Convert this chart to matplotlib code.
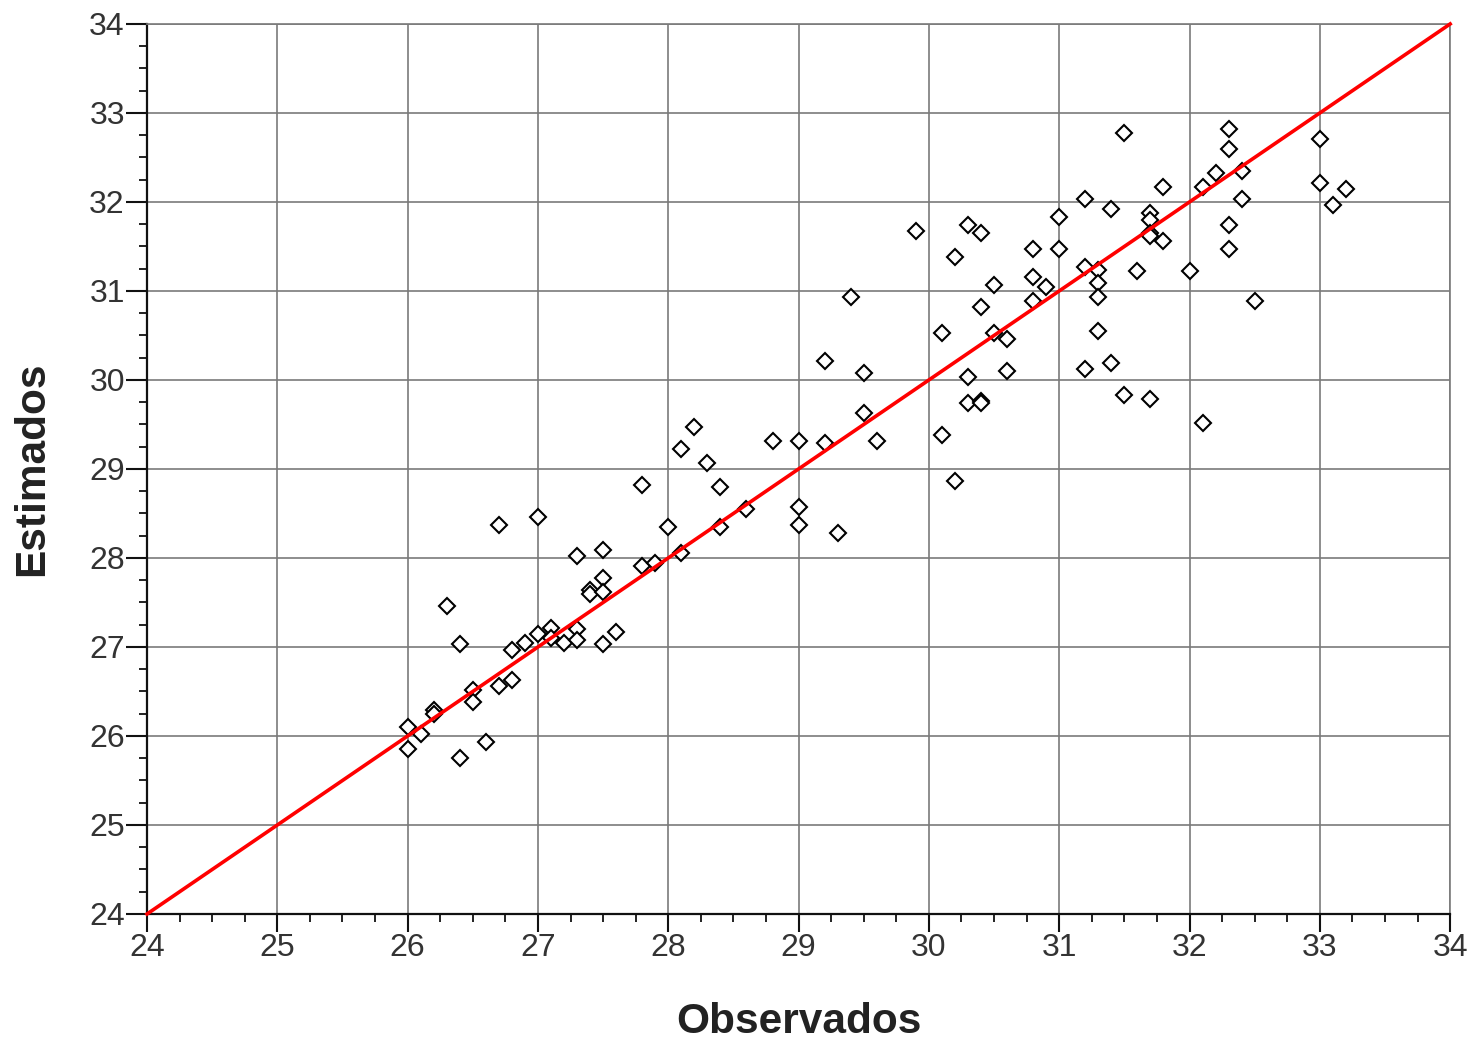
import numpy as np
import matplotlib.pyplot as plt
from matplotlib.ticker import MultipleLocator

plt.rcParams['font.family'] = ['Liberation Sans', 'DejaVu Sans']

# Observed vs estimated values
observados = [
    26.0, 26.0, 26.1, 26.2, 26.2, 26.3, 26.4, 26.4, 26.5, 26.5,
    26.6, 26.7, 26.7, 26.8, 26.8, 26.9, 27.0, 27.0, 27.1, 27.1,
    27.2, 27.3, 27.3, 27.3, 27.4, 27.4, 27.5, 27.5, 27.5, 27.5,
    27.6, 27.8, 27.8, 27.9, 28.0, 28.1, 28.1, 28.2, 28.3, 28.4,
    28.4, 28.6, 28.8, 29.0, 29.0, 29.0, 29.2, 29.2, 29.3, 29.4,
    29.5, 29.5, 29.6, 29.9, 30.1, 30.1, 30.2, 30.2, 30.3, 30.3,
    30.3, 30.4, 30.4, 30.4, 30.4, 30.5, 30.5, 30.6, 30.6, 30.8,
    30.8, 30.8, 30.9, 31.0, 31.0, 31.2, 31.2, 31.2, 31.3, 31.3,
    31.3, 31.3, 31.4, 31.4, 31.5, 31.5, 31.6, 31.7, 31.7, 31.7,
    31.7, 31.7, 31.8, 31.8, 32.0, 32.1, 32.1, 32.2, 32.3, 32.3,
    32.3, 32.3, 32.4, 32.4, 32.5, 33.0, 33.0, 33.1, 33.2,
]
estimados = [
    26.10, 25.85, 26.02, 26.29, 26.25, 27.46, 27.03, 25.75, 26.52, 26.38,
    25.93, 28.37, 26.56, 26.97, 26.63, 27.04, 28.46, 27.15, 27.21, 27.10,
    27.05, 28.02, 27.20, 27.08, 27.64, 27.60, 28.09, 27.78, 27.62, 27.03,
    27.17, 28.82, 27.91, 27.94, 28.35, 29.22, 28.06, 29.47, 29.07, 28.80,
    28.35, 28.55, 29.31, 29.31, 28.57, 28.37, 30.21, 29.29, 28.28, 30.93,
    30.08, 29.63, 29.31, 31.67, 30.53, 29.38, 31.38, 28.87, 31.74, 30.03,
    29.74, 31.65, 30.82, 29.76, 29.74, 31.07, 30.53, 30.46, 30.10, 31.47,
    31.16, 30.89, 31.04, 31.83, 31.47, 32.03, 31.27, 30.12, 31.23, 31.09,
    30.93, 30.55, 31.92, 30.19, 32.78, 29.83, 31.22, 31.88, 31.80, 31.65,
    31.62, 29.79, 32.17, 31.56, 31.22, 32.17, 29.52, 32.33, 32.82, 32.60,
    31.74, 31.47, 32.35, 32.03, 30.89, 32.71, 32.21, 31.97, 32.15,
]
linea_1a1 = [24, 34]

fig = plt.figure(figsize=(14.79, 10.41), dpi=100)
ax = fig.add_axes([0.0994, 0.122, 0.8811, 0.855])

# 1:1 reference line
ax.plot(linea_1a1, linea_1a1, color='#ff0000', lw=2.6, zorder=3, clip_on=False)

ax.plot(observados, estimados, linestyle='none', marker='D', markersize=8,
        markerfacecolor='white', markeredgecolor='black', markeredgewidth=1.5,
        zorder=2)

ax.set_xlim(24, 34)
ax.set_ylim(24, 34)
ax.xaxis.set_major_locator(MultipleLocator(1))
ax.yaxis.set_major_locator(MultipleLocator(1))
ax.xaxis.set_minor_locator(MultipleLocator(0.25))
ax.yaxis.set_minor_locator(MultipleLocator(0.25))

ax.grid(True, which='major', color='#7a7a7a', lw=1.2)
ax.set_axisbelow(True)

for side in ['left', 'bottom']:
    ax.spines[side].set_color('#111111')
    ax.spines[side].set_linewidth(1.6)
for side in ['top', 'right']:
    ax.spines[side].set_color('#7a7a7a')
    ax.spines[side].set_linewidth(1.2)

ax.tick_params(axis='both', which='major', direction='out', length=13,
               width=1.5, color='#111111', labelsize=23, labelcolor='#333333')
ax.tick_params(axis='both', which='minor', direction='out', length=6,
               width=1.3, color='#111111')
ax.tick_params(axis='x', which='major', length=13, pad=1)
ax.tick_params(axis='y', which='major', length=15, pad=1)

ax.set_xlabel('Observados', fontsize=30.5, fontweight='bold', color='#222222',
              va='center')
ax.set_ylabel('Estimados', fontsize=30.5, fontweight='bold', color='#222222',
              va='center')
ax.xaxis.set_label_coords(0.5, -0.121)
ax.yaxis.set_label_coords(-0.088, 0.5)

fig.savefig('out.png', dpi=100)
